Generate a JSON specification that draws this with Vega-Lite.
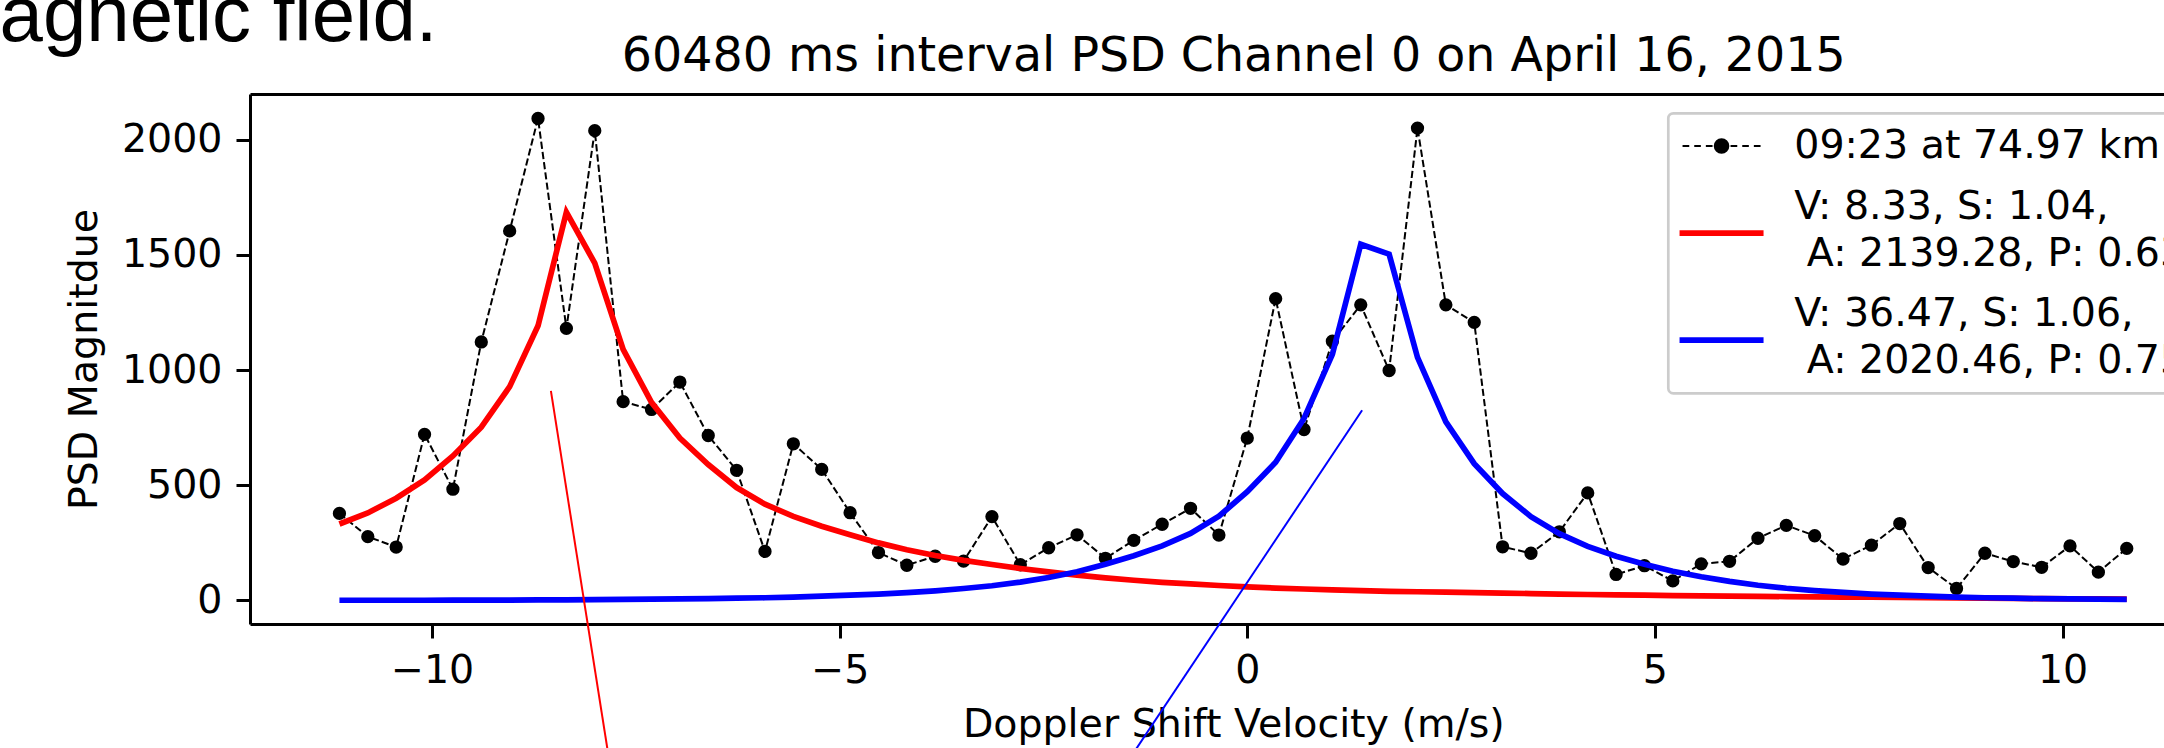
{
  "$schema": "https://vega.github.io/schema/vega-lite/v6.json",
  "width": 1914,
  "height": 530,
  "autosize": {"type": "none"},
  "padding": {"left": 250, "top": 94, "right": 0, "bottom": 124},
  "background": "white",
  "config": {
    "view": {"stroke": null},
    "axis": {
      "grid": false,
      "domainColor": "#000000",
      "domainWidth": 3,
      "tickColor": "#000000",
      "tickWidth": 3,
      "tickSize": 14,
      "labelFont": "DejaVu Sans",
      "labelFontSize": 39.5,
      "labelColor": "#000000",
      "labelFlush": false,
      "labelOverlap": false,
      "titleFont": "DejaVu Sans",
      "titleFontSize": 39.5,
      "titleFontWeight": "normal",
      "titleColor": "#000000"
    }
  },
  "datasets": {
    "psd": [
      {"v":-11.136,"psd":378,"fit1":332,"fit2":1},
      {"v":-10.788,"psd":277,"fit1":380,"fit2":1},
      {"v":-10.44,"psd":232,"fit1":444,"fit2":1},
      {"v":-10.092,"psd":721,"fit1":523,"fit2":1},
      {"v":-9.744,"psd":483,"fit1":627,"fit2":2},
      {"v":-9.396,"psd":1122,"fit1":752,"fit2":2},
      {"v":-9.048,"psd":1604,"fit1":928,"fit2":2},
      {"v":-8.7,"psd":2092,"fit1":1192,"fit2":3},
      {"v":-8.352,"psd":1181,"fit1":1685,"fit2":3},
      {"v":-8.004,"psd":2039,"fit1":1464,"fit2":4},
      {"v":-7.656,"psd":863,"fit1":1090,"fit2":5},
      {"v":-7.308,"psd":829,"fit1":860,"fit2":6},
      {"v":-6.96,"psd":948,"fit1":705,"fit2":7},
      {"v":-6.612,"psd":716,"fit1":590,"fit2":8},
      {"v":-6.264,"psd":565,"fit1":490,"fit2":10},
      {"v":-5.916,"psd":213,"fit1":418,"fit2":12},
      {"v":-5.568,"psd":680,"fit1":365,"fit2":15},
      {"v":-5.22,"psd":569,"fit1":322,"fit2":19},
      {"v":-4.872,"psd":381,"fit1":285,"fit2":23},
      {"v":-4.524,"psd":208,"fit1":250,"fit2":28},
      {"v":-4.176,"psd":153,"fit1":220,"fit2":34},
      {"v":-3.828,"psd":192,"fit1":195,"fit2":42},
      {"v":-3.48,"psd":171,"fit1":174,"fit2":52},
      {"v":-3.132,"psd":364,"fit1":156,"fit2":64},
      {"v":-2.784,"psd":155,"fit1":139,"fit2":80},
      {"v":-2.436,"psd":229,"fit1":124,"fit2":100},
      {"v":-2.088,"psd":285,"fit1":110,"fit2":125},
      {"v":-1.74,"psd":183,"fit1":98,"fit2":157},
      {"v":-1.392,"psd":261,"fit1":88,"fit2":194},
      {"v":-1.044,"psd":331,"fit1":79,"fit2":237},
      {"v":-0.696,"psd":400,"fit1":72,"fit2":291},
      {"v":-0.348,"psd":284,"fit1":65,"fit2":366},
      {"v":0,"psd":705,"fit1":59,"fit2":472},
      {"v":0.348,"psd":1310,"fit1":54,"fit2":600},
      {"v":0.696,"psd":742,"fit1":50,"fit2":790},
      {"v":1.044,"psd":1125,"fit1":46,"fit2":1068},
      {"v":1.392,"psd":1283,"fit1":43,"fit2":1546},
      {"v":1.74,"psd":998,"fit1":40,"fit2":1503},
      {"v":2.088,"psd":2050,"fit1":38,"fit2":1055},
      {"v":2.436,"psd":1283,"fit1":36,"fit2":775},
      {"v":2.784,"psd":1207,"fit1":34,"fit2":594},
      {"v":3.132,"psd":233,"fit1":32,"fit2":464},
      {"v":3.48,"psd":205,"fit1":30,"fit2":364},
      {"v":3.828,"psd":298,"fit1":28,"fit2":290},
      {"v":4.176,"psd":467,"fit1":26,"fit2":235},
      {"v":4.524,"psd":113,"fit1":24,"fit2":192},
      {"v":4.872,"psd":151,"fit1":23,"fit2":157},
      {"v":5.22,"psd":85,"fit1":21,"fit2":127},
      {"v":5.568,"psd":159,"fit1":20,"fit2":103},
      {"v":5.916,"psd":170,"fit1":19,"fit2":83},
      {"v":6.264,"psd":270,"fit1":18,"fit2":66},
      {"v":6.612,"psd":326,"fit1":17,"fit2":53},
      {"v":6.96,"psd":281,"fit1":16,"fit2":43},
      {"v":7.308,"psd":180,"fit1":15,"fit2":35},
      {"v":7.656,"psd":240,"fit1":14,"fit2":28},
      {"v":8.004,"psd":334,"fit1":13,"fit2":23},
      {"v":8.352,"psd":143,"fit1":12,"fit2":19},
      {"v":8.7,"psd":52,"fit1":11,"fit2":15},
      {"v":9.048,"psd":205,"fit1":10,"fit2":12},
      {"v":9.396,"psd":169,"fit1":9,"fit2":10},
      {"v":9.744,"psd":144,"fit1":8,"fit2":8},
      {"v":10.092,"psd":237,"fit1":7,"fit2":7},
      {"v":10.44,"psd":123,"fit1":7,"fit2":6},
      {"v":10.788,"psd":226,"fit1":6,"fit2":5}
    ]
  },
  "layer": [
    {
      "data": {"name": "psd"},
      "mark": {"type": "line", "strokeDash": [7.2, 3.1], "strokeWidth": 2},
      "encoding": {
        "x": {
          "field": "v", "type": "quantitative",
          "scale": {"domain": [-12.233, 11.245], "nice": false, "zero": false},
          "axis": {
            "orient": "bottom", "values": [-10, -5, 0, 5, 10],
            "labelPadding": 13,
            "title": "Doppler Shift Velocity (m/s)",
            "titleX": 983.3, "titleY": 112, "titleAlign": "center", "titleBaseline": "alphabetic", "titleAngle": 0
          }
        },
        "y": {
          "field": "psd", "type": "quantitative",
          "scale": {"domain": [-102, 2198], "nice": false, "zero": false},
          "axis": {
            "orient": "left", "values": [0, 500, 1000, 1500, 2000], "format": "d",
            "labelPadding": 14,
            "title": "PSD Magnitdue",
            "titleX": -153.5, "titleY": 265, "titleAlign": "center", "titleBaseline": "alphabetic", "titleAngle": 270
          }
        },
        "color": {
          "datum": "09:23 at 74.97 km", "type": "nominal",
          "scale": {
            "domain": ["09:23 at 74.97 km", "V: 8.33, S: 1.04,\n\u200b\u00a0A: 2139.28, P: 0.63", "V: 36.47, S: 1.06,\n\u200b\u00a0A: 2020.46, P: 0.75"],
            "range": ["#000000", "#ff0000", "#0000ff"]
          },
          "legend": {
            "orient": "none", "legendX": 1418.3, "legendY": 19.3,
            "title": null, "direction": "vertical",
            "padding": 13,
            "fillColor": "#ffffff", "strokeColor": "#cccccc", "cornerRadius": 5,
            "labelFont": "DejaVu Sans", "labelFontSize": 39.5, "labelColor": "#000000", "labelLimit": 2000,
            "labelExpr": "split(datum.label, '\\n')",
            "labelOffset": 53, "symbolOffset": 20.5,
            "symbolSize": 400, "symbolStrokeWidth": 2,
            "rowPadding": 20,
            "encode": {
              "legend": {"update": {"strokeWidth": {"value": 2.7}}},
              "symbols": {
                "update": {
                  "shape": {"signal": "datum.index === 0 ? 'M-3.9,0H-3.23M-2.73,0H-2.07M-1.57,0H-0.9M0.9,0H1.57M2.07,0H2.73M3.23,0H3.9M-0.68,0A0.68,0.68 0 1,0 0.68,0A0.68,0.68 0 1,0 -0.68,0Z' : 'M-4.2,0H4.2'"},
                  "stroke": {"scale": "color", "field": "value"},
                  "fill": {"signal": "datum.index === 0 ? '#000000' : 'transparent'"},
                  "strokeWidth": {"signal": "datum.index === 0 ? 2 : 5.7"},
                  "opacity": {"value": 1}
                }
              },
              "labels": {"update": {"lineHeight": {"value": 46.5}, "dy": {"signal": "datum.index === 0 ? 0 : -26"}}}
            }
          }
        }
      }
    },
    {
      "data": {"name": "psd"},
      "mark": {"type": "point", "filled": true, "size": 177, "opacity": 1, "strokeWidth": 0},
      "encoding": {
        "x": {
          "field": "v", "type": "quantitative",
          "axis": {
            "orient": "top", "ticks": false, "labels": false, "domain": true,
            "title": "60480 ms interval PSD Channel 0 on April 16, 2015",
            "titleX": 983.3, "titleY": -23.5, "titleAlign": "center", "titleBaseline": "alphabetic", "titleAngle": 0, "titleFontSize": 47.5
          }
        },
        "y": {
          "field": "psd", "type": "quantitative",
          "axis": {
            "orient": "right", "ticks": false, "labels": false, "domain": false,
            "title": "agnetic field.",
            "titleX": -2165, "titleY": -54, "titleAlign": "left", "titleBaseline": "alphabetic", "titleAngle": 0,
            "titleFont": "Liberation Sans", "titleFontSize": 78
          }
        },
        "color": {"datum": "09:23 at 74.97 km", "type": "nominal"}
      }
    },
    {
      "data": {"name": "psd"},
      "mark": {"type": "line", "strokeWidth": 5.7},
      "encoding": {
        "x": {"field": "v", "type": "quantitative", "axis": null},
        "y": {"field": "fit1", "type": "quantitative", "axis": null},
        "color": {"datum": "V: 8.33, S: 1.04,\n\u200b\u00a0A: 2139.28, P: 0.63", "type": "nominal"}
      }
    },
    {
      "data": {"name": "psd"},
      "mark": {"type": "line", "strokeWidth": 5.7},
      "encoding": {
        "x": {"field": "v", "type": "quantitative", "axis": null},
        "y": {"field": "fit2", "type": "quantitative", "axis": null},
        "color": {"datum": "V: 36.47, S: 1.06,\n\u200b\u00a0A: 2020.46, P: 0.75", "type": "nominal"}
      }
    },
    {
      "data": {"values": [{"v": -8.542, "p": 909.5, "v2": -7.827, "p2": -693}]},
      "mark": {"type": "rule", "color": "#ff0000", "strokeWidth": 2},
      "encoding": {
        "x": {"field": "v", "type": "quantitative", "axis": null},
        "y": {"field": "p", "type": "quantitative", "axis": null},
        "x2": {"field": "v2"},
        "y2": {"field": "p2"}
      }
    },
    {
      "data": {"values": [{"v": 1.4086, "p": 825.8, "v2": -1.455, "p2": -693}]},
      "mark": {"type": "rule", "color": "#0000ff", "strokeWidth": 2},
      "encoding": {
        "x": {"field": "v", "type": "quantitative", "axis": null},
        "y": {"field": "p", "type": "quantitative", "axis": null},
        "x2": {"field": "v2"},
        "y2": {"field": "p2"}
      }
    }
  ],
  "resolve": {"axis": {"x": "independent", "y": "independent"}}
}
